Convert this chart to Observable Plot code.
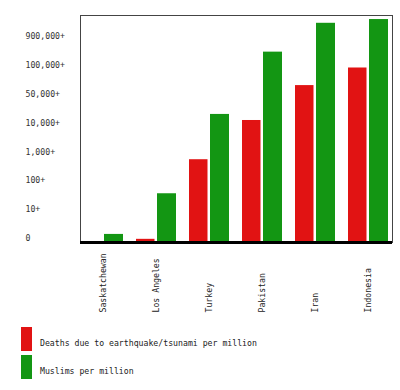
<!DOCTYPE html>
<html>
<head>
<meta charset="utf-8">
<script src="https://cdn.jsdelivr.net/npm/d3@7"></script>
<script src="https://cdn.jsdelivr.net/npm/@observablehq/plot@0.6"></script>
<style>
  body { margin: 0; background: #fff; }
  #chart { width: 400px; }
  .legend { font-family: "DejaVu Sans Mono", monospace; font-size: 8.2px; color: #222; margin-top: 7px; }
  .row { position: relative; height: 28px; }
  .sw { position: absolute; left: 21px; top: 0; width: 11px; height: 24px; }
  .lab { position: absolute; left: 40px; top: 11px; white-space: nowrap; }
</style>
</head>
<body>
<div id="chart"></div>
<script>
const categories = ["Saskatchewan", "Los Angeles", "Turkey", "Pakistan", "Iran", "Indonesia"];
// bar heights read as positions on the chart's tick ladder (0 = "0", 1 = "10+", ... 7 = "900,000+")
const deathsLevel = [null, -0.03, 2.73, 4.09, 5.30, 5.91];
const muslimsLevel = [0.14, 1.55, 4.30, 6.46, 7.46, 7.59];
const tickLabels = ["0", "10+", "100+", "1,000+", "10,000+", "50,000+", "100,000+", "900,000+"];
const seriesNames = ["Deaths due to earthquake/tsunami per million", "Muslims per million"];
const seriesColors = ["#e11313", "#139613"];
const yDomain = [-0.14, 7.73];

const deaths = categories.map((c, i) => ({category: c, value: deathsLevel[i]}));
const muslims = categories.map((c, i) => ({category: c, value: muslimsLevel[i]}));

const font = "DejaVu Sans Mono, monospace";

const chart = Plot.plot({
  width: 400,
  height: 320,
  marginLeft: 80,
  marginRight: 8,
  marginTop: 15,
  marginBottom: 78,
  style: {fontFamily: font, fontSize: "8.2px", background: "#fff"},
  x: {domain: categories, paddingInner: 0.24, paddingOuter: 0.04},
  y: {domain: yDomain},
  marks: [
    Plot.barY(deaths.filter(d => d.value != null), {x: "category", y1: yDomain[0], y2: "value", fill: seriesColors[0], insetRight: 21.5, insetLeft: 0}),
    Plot.barY(muslims, {x: "category", y1: yDomain[0], y2: "value", fill: seriesColors[1], insetLeft: 21, insetRight: 0}),
    Plot.frame({stroke: "#444", strokeWidth: 1}),
    Plot.ruleY([yDomain[0]], {stroke: "#000", strokeWidth: 3}),
    Plot.axisY({ticks: d3.range(tickLabels.length), tickFormat: i => tickLabels[i], tickSize: 0, textAnchor: "start", dx: -46, fill: "#333", label: null}),
    Plot.axisX({tickSize: 0, tickRotate: -90, textAnchor: "start", dy: 61, fill: "#222", label: null})
  ]
});
document.getElementById("chart").appendChild(chart);

const legend = document.createElement("div");
legend.className = "legend";
seriesNames.forEach((name, i) => {
  const row = document.createElement("div");
  row.className = "row";
  const sw = document.createElement("div");
  sw.className = "sw";
  sw.style.background = seriesColors[i];
  const lab = document.createElement("div");
  lab.className = "lab";
  lab.textContent = name;
  row.appendChild(sw);
  row.appendChild(lab);
  legend.appendChild(row);
});
document.getElementById("chart").appendChild(legend);
</script>
</body>
</html>
